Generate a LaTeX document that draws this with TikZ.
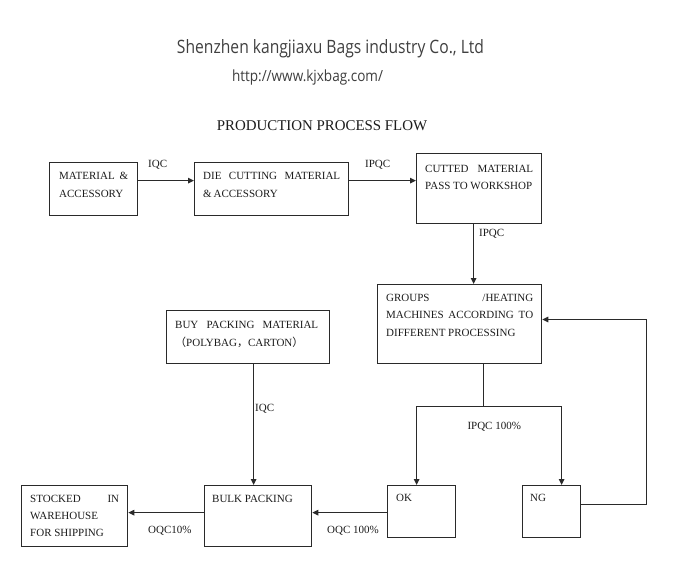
\documentclass[tikz,border=0pt]{standalone}
\usepackage{fontspec}
\setmainfont{Liberation Serif}
\newfontfamily\titlefont{Open Sans}
\newfontfamily\cjkfont{Noto Sans CJK SC}
\usetikzlibrary{arrows.meta}
\definecolor{linec}{HTML}{2A2A2A}
\definecolor{textc}{HTML}{1C1C1C}
\definecolor{titlec}{HTML}{404040}
\newcommand\btext[1]{\begin{tabular}[t]{@{}l@{}}#1\end{tabular}}
\newcommand\jl[2]{\hbox to #1pt{#2}}
\begin{document}
\begin{tikzpicture}[x=1pt,y=-1pt,
  box/.style={draw=linec, line width=1.3pt, anchor=north west, inner sep=0pt},
  txt/.style={anchor=base west, inner sep=0pt, text=textc, font=\fontsize{11}{17.4}\selectfont},
  lbl/.style={anchor=base west, inner sep=0pt, text=textc, font=\fontsize{11}{13}\selectfont},
  arr/.style={draw=linec, line width=1.2pt, -{Triangle[length=6pt,width=5.5pt]}},
  ln/.style={draw=linec, line width=1.2pt}]
\fill[white] (0,0) rectangle (686,571);
\useasboundingbox (0,0) rectangle (686,571);

% headings
\node[anchor=base, inner sep=0pt, text=titlec] (title) at (330.5,53.3)
  {\resizebox{307pt}{14pt}{\titlefont Shenzhen kangjiaxu Bags industry Co., Ltd}};
\node[anchor=base, inner sep=0pt, text=textc!85] (url) at (307.5,81.5)
  {\resizebox{151pt}{11.7pt}{\titlefont http://www.kjxbag.com/}};
\node[anchor=base, inner sep=0pt, text=textc] (head) at (322,130)
  {\fontsize{14.9}{16}\selectfont PRODUCTION PROCESS FLOW};

% boxes
\node[box, minimum width=88pt, minimum height=53pt] (m1) at (49,162) {};
\node[box, minimum width=154pt, minimum height=53pt] (m2) at (194,162) {};
\node[box, minimum width=125pt, minimum height=70pt] (m3) at (416,153) {};
\node[box, minimum width=164pt, minimum height=79pt] (m4) at (377,284) {};
\node[box, minimum width=163pt, minimum height=53pt] (m5) at (166,310) {};
\node[box, minimum width=107pt, minimum height=61pt] (bulk) at (204,485) {};
\node[box, minimum width=106pt, minimum height=61pt] (stock) at (21,485) {};
\node[box, minimum width=68pt, minimum height=52pt] (ok) at (387,485) {};
\node[box, minimum width=58pt, minimum height=52pt] (ng) at (522,485) {};

% box texts
\node[txt] (t1) at (59,179.7) {\btext{\jl{69}{MATERIAL\hfill\&}\\ACCESSORY}};
\node[txt] (t2) at (203,179.7) {\btext{\jl{137}{DIE\hfill CUTTING\hfill MATERIAL}\\\&\,ACCESSORY}};
\node[txt] (t3) at (425,172) {\btext{\jl{108}{CUTTED\hfill MATERIAL}\\PASS TO WORKSHOP}};
\node[txt] (t4) at (386,301.3) {\btext{\jl{147}{GROUPS\hfill/HEATING}\\\jl{147}{MACHINES\hfill ACCORDING\hfill TO}\\DIFFERENT PROCESSING}};
\node[txt] (t5) at (175,328.7) {\btext{\jl{143}{BUY\hfill PACKING\hfill MATERIAL}\\{\cjkfont （}POLYBAG{\cjkfont ，}CARTON{\cjkfont ）}}};
\node[txt] (t6) at (30,502) {\btext{\jl{89}{STOCKED\hfill IN}\\WAREHOUSE\\FOR SHIPPING}};
\node[txt] (t7) at (212,502) {BULK PACKING};
\node[txt] (t8) at (396,501.3) {OK};
\node[txt] (t9) at (530,501.3) {NG};

% connector labels
\node[lbl] (l1) at (148,167.3) {IQC};
\node[lbl] (l2) at (365,167.3) {IPQC};
\node[lbl] (l3) at (479,236) {IPQC};
\node[lbl] (l4) at (467.3,429) {IPQC 100\%};
\node[lbl] (l5) at (255,411) {IQC};
\node[lbl] (l6) at (148,533.3) {OQC10\%};
\node[lbl] (l7) at (327,533.3) {OQC 100\%};

% connectors
\coordinate (a1) at ([yshift=8.5pt]m1.east);
\draw[arr] (a1) -- (a1 -| m2.west);
\coordinate (a2) at ([yshift=8.5pt]m2.east);
\draw[arr] (a2) -- (a2 -| m3.west);
\coordinate (a3) at ([xshift=-5.5pt]m3.south);
\draw[arr] (a3) -- (a3 |- m4.north);
\coordinate (split) at (483.5,406.5);
\draw[arr] (split |- m4.south) -- (split) -| ([xshift=-5pt]ok.north);
\draw[arr] (split) -| ([xshift=10pt]ng.north);
\coordinate (loop) at (646.5,319.5);
\draw[arr] ([yshift=7.5pt]ng.east) -| (loop) -- (loop -| m4.east);
\coordinate (a5) at ([xshift=5.5pt]m5.south);
\draw[arr] (a5) -- (a5 |- bulk.north);
\coordinate (a6) at ([yshift=-1pt]ok.west);
\draw[arr] (a6) -- (a6 -| bulk.east);
\coordinate (a7) at ([yshift=3.5pt]bulk.west);
\draw[arr] (a7) -- (a7 -| stock.east);
\end{tikzpicture}
\end{document}
